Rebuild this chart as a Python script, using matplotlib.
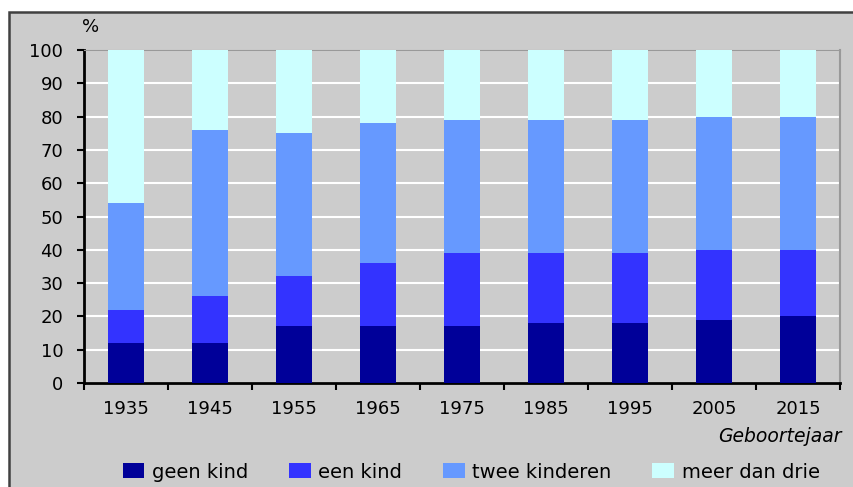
import matplotlib.pyplot as plt
from matplotlib.patches import Rectangle
import numpy as np

years = ['1935', '1945', '1955', '1965', '1975', '1985', '1995', '2005', '2015']
geen_kind = [12, 12, 17, 17, 17, 18, 18, 19, 20]
een_kind = [10, 14, 15, 19, 22, 21, 21, 21, 20]
twee_kinderen = [32, 50, 43, 42, 40, 40, 40, 40, 40]
meer_dan_drie = [46, 24, 25, 22, 21, 21, 21, 20, 20]

series = [geen_kind, een_kind, twee_kinderen, meer_dan_drie]
labels = ['geen kind', 'een kind', 'twee kinderen', 'meer dan drie']
colors = ['#000099', '#3333FF', '#6699FF', '#CCFFFF']

plt.rcParams['font.family'] = ['DejaVu Sans']

fig = plt.figure(figsize=(8.54, 4.87), dpi=100)
fig.patch.set_facecolor('white')

# grey chart area with dark border (top and left visible)
fig.patches.append(Rectangle((9 / 854, -0.05), 1.1, 1 - 12 / 487 + 0.05,
                             transform=fig.transFigure, facecolor='#CCCCCC',
                             edgecolor='#404040', linewidth=1.8, zorder=-10))

ax = fig.add_axes([84 / 854, 1 - 383 / 487, (840 - 84) / 854, (383 - 50) / 487])
ax.set_facecolor('#CCCCCC')

x = np.arange(len(years))
bottom = np.zeros(len(years))
for vals, lab, col in zip(series, labels, colors):
    ax.bar(x, vals, width=0.42, bottom=bottom, color=col, label=lab,
           edgecolor='none', zorder=3)
    bottom += np.array(vals)

ax.set_xlim(-0.5, len(years) - 0.5)
ax.set_ylim(0, 100)
ax.set_yticks(range(0, 101, 10))
ax.yaxis.grid(True, color='white', linewidth=1.5, zorder=1)

ax.set_xticks(x)
ax.set_xticklabels(years)
ax.set_xticks(np.arange(-0.5, len(years)), minor=True)
ax.tick_params(axis='x', which='major', length=0, pad=12, labelsize=13)
ax.tick_params(axis='x', which='minor', length=5, width=1.5, direction='out')
ax.tick_params(axis='y', length=5, width=1.5, direction='out', pad=10, labelsize=13)

ax.spines['top'].set_color('#999999')
ax.spines['right'].set_color('#999999')
ax.spines['right'].set_linewidth(1.5)
ax.spines['left'].set_linewidth(2)
ax.spines['bottom'].set_linewidth(2)

fig.text(82 / 854, 1 - 27 / 487, '%', fontsize=13, ha='left', va='center')
fig.text(842 / 854, 1 - 437 / 487, 'Geboortejaar', fontsize=13.5,
         style='italic', ha='right', va='center')

fig.legend(loc='center left', bbox_to_anchor=(123 / 854, 1 - 472 / 487),
           ncol=4, frameon=False, fontsize=14, handlelength=1.1,
           handleheight=0.8, handletextpad=0.4, columnspacing=2.1,
           borderaxespad=0, borderpad=0)

plt.savefig('out.png', dpi=100, facecolor=fig.get_facecolor())
